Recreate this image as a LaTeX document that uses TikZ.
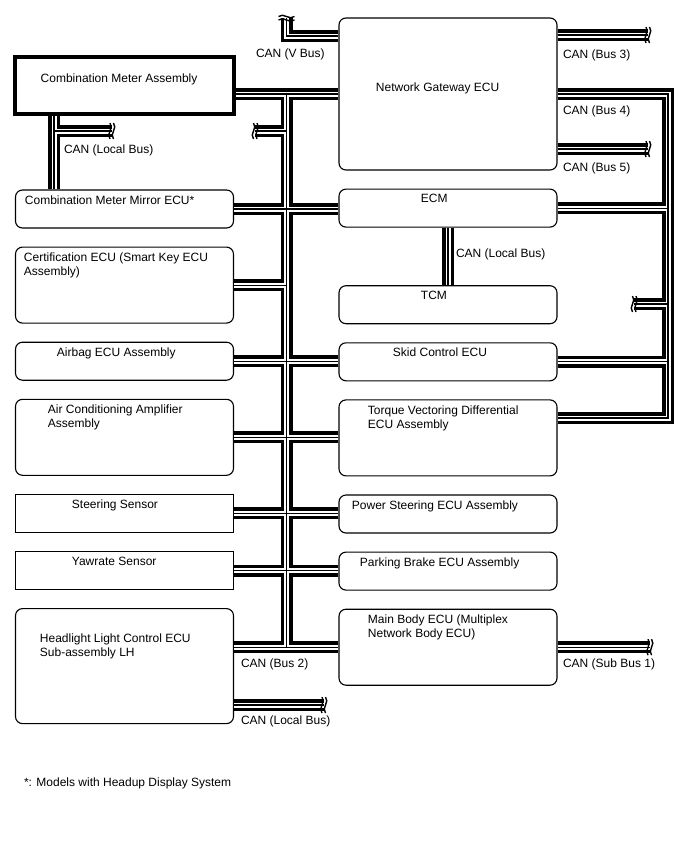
\documentclass[tikz,border=0pt]{standalone}
\usepackage{fontspec}
\setmainfont{Liberation Sans}
\usetikzlibrary{positioning, calc}

\begin{document}
\begin{tikzpicture}[
  x=1pt, y=-1pt,
  font=\fontsize{12}{14.4}\selectfont,
  node distance=18pt,
  ecu/.style={draw, line width=1.1pt, rounded corners=7pt, minimum width=218pt},
  small/.style={ecu, minimum height=38pt},
  tall/.style={ecu, minimum height=76pt},
  sensor/.style={draw, line width=1.1pt, minimum width=218pt, minimum height=38pt},
  meter/.style={draw, line width=3.6pt, minimum width=219pt, minimum height=57pt},
  lbl/.style={inner sep=0pt, outer sep=0pt, align=left},
  canbus/.style={line width=12pt, postaction={draw=white, line width=5pt}, postaction={draw=black, line width=1.2pt}},
  brkmark/.pic={
    \draw[line width=1.4pt] (-2,-8) .. controls (2.5,-3) and (-6.5,3) .. (-2,8)
      (1.5,-8) .. controls (6,-3) and (-3,3) .. (1.5,8);
  },
]
\useasboundingbox (0,0) rectangle (688,852);

% left column
\node[meter] (cma) at (124.5,85.5) {};
\node[small] (mir) at (124.5,209) {};
\node[tall, below=of mir] (cert) {};
\node[small, below=of cert] (abg) {};
\node[tall, below=of abg] (ac) {};
\node[sensor, below=of ac] (ss) {};
\node[sensor, below=of ss] (yr) {};
\node[ecu, minimum height=115pt, below=of yr] (hl) {};

% right column
\node[ecu, minimum height=152pt] (gw) at (448,94) {};
\node[small, below=of gw] (ecm) {};
\node[small, below=57.5pt of ecm] (tcm) {};
\node[small, below=of tcm] (skid) {};
\node[tall, below=of skid] (tvd) {};
\node[small, below=of tvd] (ps) {};
\node[small, below=of ps] (pb) {};
\node[tall, below=of pb] (mb) {};

\node[lbl, below right=18.5pt and 27.5pt of cma.north west] (tcma) {Combination Meter Assembly};
\node[lbl, below right=6pt and 10pt of mir.north west] (tmir) {Combination Meter Mirror ECU*};
\node[lbl, below right=6pt and 9pt of cert.north west] (tcert) {Certification ECU (Smart Key ECU\\Assembly)};
\node[lbl, below right=6pt and 42pt of abg.north west] (tabg) {Airbag ECU Assembly};
\node[lbl, below right=6pt and 33pt of ac.north west] (tac) {Air Conditioning Amplifier\\Assembly};
\node[lbl, below right=6pt and 57pt of ss.north west] (tss) {Steering Sensor};
\node[lbl, below right=6pt and 57pt of yr.north west] (tyr) {Yawrate Sensor};
\node[lbl, below right=25.5pt and 25pt of hl.north west] (thl) {Headlight Light Control ECU\\Sub-assembly LH};
\node[lbl, below right=65.5pt and 37.5pt of gw.north west] (tgw) {Network Gateway ECU};
\node[lbl, below right=6pt and 82.5pt of ecm.north west] (tecm) {ECM};
\node[lbl, below right=6pt and 82.5pt of tcm.north west] (ttcm) {TCM};
\node[lbl, below right=6pt and 54.5pt of skid.north west] (tskid) {Skid Control ECU};
\node[lbl, below right=6pt and 29.5pt of tvd.north west] (ttvd) {Torque Vectoring Differential\\ECU Assembly};
\node[lbl, below right=6pt and 13.5pt of ps.north west] (tps) {Power Steering ECU Assembly};
\node[lbl, below right=6pt and 21.5pt of pb.north west] (tpb) {Parking Brake ECU Assembly};
\node[lbl, below right=6pt and 29.5pt of mb.north west] (tmb) {Main Body ECU (Multiplex\\Network Body ECU)};

% bus points
\coordinate (trunk) at (286.5,94);
\coordinate (vbus) at (286.5,36);
\coordinate (brkV) at (286.5,18);
\coordinate (brkA) at (112,131);
\coordinate (cml) at (54,131);
\coordinate (brkB) at (255,131);
\coordinate (brkC) at (648,35);
\coordinate (brkD) at (634,304);
\coordinate (brkE) at (648,149);
\coordinate (brkF) at (324,705);
\coordinate (b4) at (668,418);
\path (mb.east) ++(92.5,0) coordinate (brkG);

% CAN (Bus 2)
\draw[canbus]
  (cma.east |- gw.west) -- (gw.west)
  (trunk) -- (trunk |- mb.west)
  (brkB) -- (brkB -| trunk)
  (mir.east) -- (mir.east -| ecm.west)
  (cert.east) -- (cert.east -| trunk)
  (abg.east) -- (abg.east -| skid.west)
  (ac.east) -- (ac.east -| tvd.west)
  (ss.east) -- (ss.east -| ps.west)
  (yr.east) -- (yr.east -| pb.west)
  (hl.east |- mb.west) -- (mb.west);
% CAN (Bus 4)
\draw[canbus]
  (gw.east) -- (gw.east -| b4) -- (b4) -- (b4 -| tvd.east)
  (ecm.east) -- (ecm.east -| b4)
  (skid.east) -- (skid.east -| b4)
  (brkD) -- (brkD -| b4);
\draw[canbus] (vbus -| gw.west) -- (vbus) -- (brkV);
\draw[canbus] (brkC -| gw.east) -- (brkC);
\draw[canbus] (brkE -| gw.east) -- (brkE);
\draw[canbus] (cml |- cma.south) -- (cml |- mir.north) (cml) -- (brkA);
\draw[canbus] (ecm.south) -- (tcm.north);
\draw[canbus] (brkF -| hl.east) -- (brkF);
\draw[canbus] (mb.east) -- (brkG);

\pic (pv) [rotate=90] at (brkV) {brkmark};
\pic (pa) at (brkA) {brkmark};
\pic (pb) [rotate=180] at (brkB) {brkmark};
\pic (pc) at (brkC) {brkmark};
\pic (pd) [rotate=180] at (brkD) {brkmark};
\pic (pe) at (brkE) {brkmark};
\pic (pf) at (brkF) {brkmark};
\pic (pg) at (brkG) {brkmark};

\node[lbl, anchor=base west] (lvbus) at (256,57.5) {CAN (V Bus)};
\node[lbl, anchor=base west] (lcml) at (64,153.5) {CAN (Local Bus)};
\node[lbl, anchor=base west] (lb3) at (563,58.5) {CAN (Bus 3)};
\node[lbl, anchor=base west] (lb4) at (563,114.8) {CAN (Bus 4)};
\node[lbl, anchor=base west] (lb5) at (563,171.5) {CAN (Bus 5)};
\node[lbl, anchor=base west] (lecml) at (456,257.5) {CAN (Local Bus)};
\node[lbl, anchor=base west] (lb2) at (241,667) {CAN (Bus 2)};
\node[lbl, anchor=base west] (lhll) at (241,724.5) {CAN (Local Bus)};
\node[lbl, anchor=base west] (lsb1) at (563,667.5) {CAN (Sub Bus 1)};
\node[lbl, anchor=base west] (note) at (24,786.5) {*: Models with Headup Display System};
\end{tikzpicture}
\end{document}
